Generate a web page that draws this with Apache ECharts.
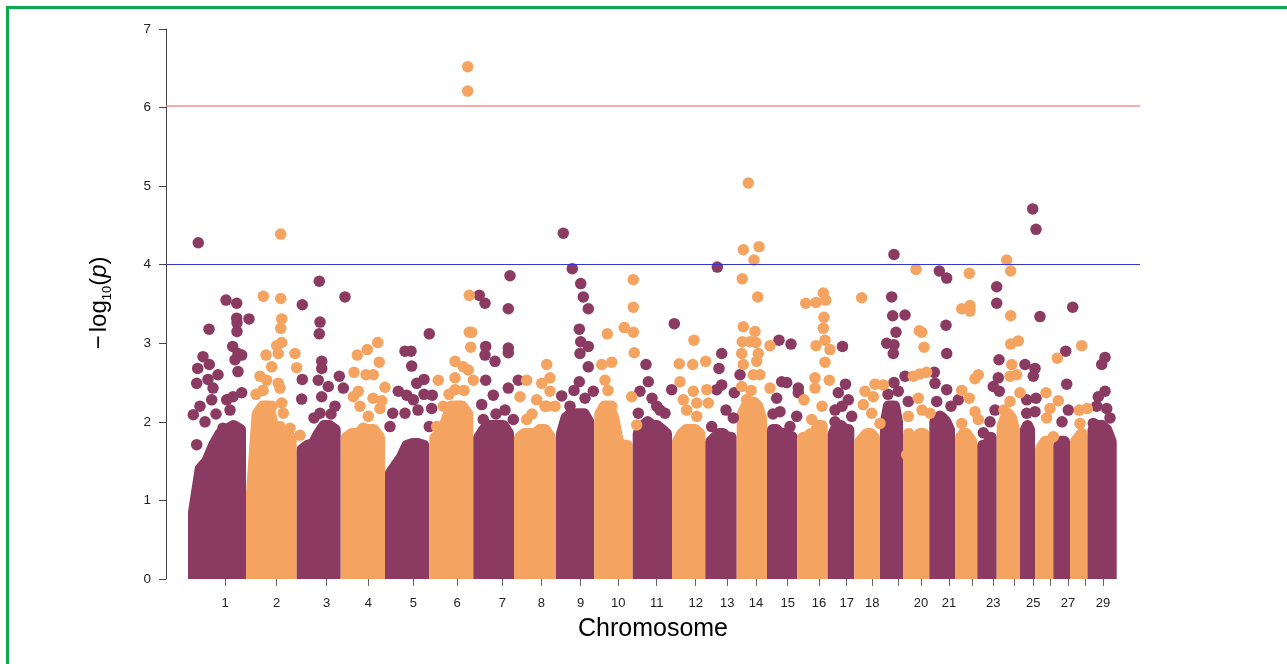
<!DOCTYPE html>
<html>
<head>
<meta charset="utf-8">
<script src="https://cdn.jsdelivr.net/npm/echarts@6/dist/echarts.min.js"></script>
<style>html,body{margin:0;padding:0;background:#fff}#c{width:1287px;height:664px}</style>
</head>
<body>
<div id="c"></div>
<script>
// ---- Data (cumulative genomic position in plot units, -log10(p)) ----
const chromosomes = ['1','2','3','4','5','6','7','8','9','10','11','12','13','14','15','16','17','18','19','20','21','22','23','24','25','26','27','28','29'];
// chromosome boundaries along the cumulative position axis (30 edges)
const chrBounds = [22, 80, 130.7, 174.7, 219, 263.3, 307.3, 348, 390, 428.3, 466.7, 506, 539.3, 570.7, 601, 631.3, 661.7, 688.3, 714, 737, 763.3, 789, 811.3, 830.7, 854, 869, 887.3, 904, 921.5, 950.7];
// tick positions (chromosome centres) and tick labels
const tickPos = [59, 110.7, 160.7, 202.3, 247.3, 291, 336.3, 375.3, 414.7, 452.3, 490.7, 529.7, 561.3, 590, 621.7, 653, 680.7, 706.3, 732, 755, 783, 806.3, 827.3, 848, 867.3, 884.7, 902, 919.7, 937];
const tickLabels = ['1','2','3','4','5','6','7','8','9','10','11','12','13','14','15','16','17','18','','20','21','','23','','25','','27','','29'];
// upper envelope (point centres) of the dense bulk of SNPs per chromosome, evenly spaced across the chromosome
const bulkTop = [
  [0.85,1.4,1.5,1.7,1.85,1.9,1.95,1.9],
  [1.1,2.1,2.2,2.2,1.9,1.85,1.8,1.8],
  [1.65,1.7,1.72,1.85,1.95,1.95,1.9],
  [1.8,1.85,1.85,1.9,1.9,1.9,1.8],
  [1.35,1.45,1.55,1.7,1.72,1.72,1.7],
  [1.8,1.85,2.0,2.2,2.2,2.2,2.1],
  [1.8,1.9,1.95,1.95,1.95,1.95,1.85],
  [1.8,1.85,1.85,1.85,1.9,1.9,1.8],
  [1.85,2.05,2.1,2.1,2.1,2.1,2.0],
  [2.1,2.2,2.2,2.05,1.75,1.7,1.7],
  [1.85,1.95,2.0,1.95,1.95,1.9,1.85],
  [1.75,1.85,1.9,1.9,1.9,1.85],
  [1.75,1.8,1.85,1.85,1.8,1.8],
  [2.1,2.2,2.25,2.25,2.2,2.05],
  [1.9,1.9,1.85,1.85,1.8,1.75],
  [1.8,1.8,1.85,1.85,1.95,1.95],
  [1.85,1.95,1.95,1.9,1.9],
  [1.75,1.8,1.85,1.85,1.8],
  [2.0,2.2,2.2,2.2,2.0],
  [1.85,1.75,1.8,1.85,1.85],
  [2.0,2.05,2.05,2.0,1.9],
  [1.8,1.85,1.85,1.8,1.75],
  [1.7,1.6,1.7,1.75,1.8],
  [1.95,2.05,2.1,2.05,1.9],
  [1.9,1.95,1.9],
  [1.65,1.7,1.75,1.75],
  [1.7,1.75,1.75],
  [1.75,1.8,1.85],
  [1.9,1.95,1.95,1.9,1.75]
];
// individual SNPs above the bulk, odd chromosomes
const oddChrSNPs = [
  // chr1
  [32.3,4.28],[60,3.55],[70.7,3.51],[83,3.31],[70.7,3.32],[71,3.26],[71,3.15],[43,3.18],[66.7,2.96],[72,2.87],[75.7,2.85],[69,2.79],[72,2.64],[37,2.83],[31.7,2.68],[43.3,2.73],[52,2.6],[30.7,2.49],[42,2.54],[47,2.43],[45.7,2.28],[34,2.2],[27.3,2.09],[60.7,2.28],[67,2.32],[75.7,2.37],[30.7,1.71],[57,1.92],[64,2.15],[50,2.1],[39,2.0],
  // chr3
  [153.3,3.79],[179,3.59],[136.3,3.49],[154,3.27],[153.3,3.12],[155.7,2.77],[155.7,2.68],[173.3,2.58],[136.3,2.54],[152.3,2.53],[162.3,2.45],[177.3,2.43],[135.7,2.29],[155.7,2.32],[169,2.2],[154,2.11],[148,2.05],[165,2.1],
  // chr5
  [263.3,3.12],[239,2.9],[245,2.9],[245.7,2.71],[258,2.54],[250.7,2.49],[232.3,2.39],[240.7,2.34],[247.3,2.28],[266.3,2.34],[226.7,2.11],[239,2.11],[224,1.94],[265.7,2.17],[263.3,1.94],[252,2.15],[258,2.35],
  // chr7
  [344,3.86],[313.3,3.61],[319,3.51],[342.3,3.44],[319.7,2.96],[342.3,2.94],[319,2.85],[329,2.77],[342.3,2.88],[352.3,2.53],[319.7,2.53],[342.3,2.43],[327.3,2.34],[315.7,2.22],[339,2.15],[317.3,2.03],[347.3,2.03],[330,2.1],
  // chr9
  [397.3,4.4],[406.3,3.95],[414.7,3.76],[417.3,3.59],[422.3,3.44],[413.3,3.18],[414.7,3.02],[422.3,2.96],[414,2.87],[422.3,2.7],[395.7,2.33],[413.3,2.51],[427.3,2.39],[404,2.2],[408,2.4],[419,2.3],
  // chr11
  [508.3,3.25],[480,2.73],[482.3,2.51],[474,2.39],[505.7,2.41],[490.7,2.2],[499,2.11],[472.3,2.11],[484,1.9],[486,2.3],[494,2.15],
  // chr13
  [551.3,3.97],[555.7,2.87],[553,2.68],[555.7,2.47],[550.7,2.41],[568.3,2.37],[574,2.6],[567.3,2.05],[545.7,1.94],[560,2.15],
  // chr15
  [613,3.04],[625,2.99],[615.7,2.51],[620.7,2.5],[632.3,2.43],[632.3,2.37],[610.7,2.3],[614,2.13],[630.7,2.07],[624,1.94],[625.7,1.81],[607,2.1],
  // chr17
  [676.5,2.96],[679.5,2.48],[672.3,2.37],[669,2.15],[682.3,2.28],[685.7,2.07],[669,2.0],[676,2.2],
  // chr19
  [728,4.13],[725.7,3.59],[726.7,3.35],[739,3.36],[730,3.14],[720.7,3.0],[728,2.98],[727.3,2.87],[739,2.58],[732.3,2.39],[742.3,2.26],[722,2.35],[728,2.5],
  // chr21
  [773.3,3.92],[780.7,3.83],[780,3.23],[780.7,2.87],[768.3,2.63],[769,2.49],[780.7,2.41],[770.7,2.26],[792.3,2.28],[774,2.07],[785,2.2],
  // chr23
  [830.7,3.72],[830.7,3.51],[833,2.79],[832.3,2.56],[827.3,2.45],[833.3,2.39],[829,2.15],[817.3,1.86],[820.7,1.69],[824,2.0],
  // chr25
  [866.7,4.71],[870,4.45],[874,3.34],[859,2.73],[869,2.68],[867.3,2.58],[860.7,2.28],[870,2.3],[869,2.13],[860.7,2.11],
  // chr27
  [906.7,3.46],[899.7,2.9],[900.7,2.48],[902.3,2.15],[895.7,1.73],[896,2.0],
  // chr29
  [939,2.82],[935.7,2.73],[939,2.39],[932.3,2.32],[940.7,2.17],[930.7,2.2],[927.3,1.98],[944,2.05]
];
// individual SNPs above the bulk, even chromosomes
const evenChrSNPs = [
  // chr2
  [114.7,4.39],[97.3,3.6],[114.7,3.57],[115.7,3.31],[114.7,3.19],[115.7,3.01],[110.7,2.97],[100,2.85],[112.3,2.87],[129,2.87],[105.7,2.7],[130.7,2.69],[94,2.58],[100.7,2.53],[112.3,2.49],[114,2.43],[115.7,2.24],[117.3,2.11],[114,1.94],[124,1.92],[134,1.83],[90,2.35],[97,2.4],[106,2.2],
  // chr4
  [211.7,3.01],[201.3,2.92],[191.3,2.85],[213.3,2.76],[188,2.63],[200,2.6],[207.3,2.6],[192.3,2.39],[219,2.44],[187.3,2.32],[215.7,2.27],[194,2.2],[214,2.17],[202.3,2.07],[197.3,1.92],[207,2.3],
  // chr6
  [301.7,6.52],[301.7,6.21],[303.3,3.61],[303.3,3.14],[305.7,3.14],[304.7,2.95],[289,2.77],[297.3,2.7],[302.3,2.66],[272.3,2.53],[289,2.56],[307.3,2.53],[289,2.41],[277.3,2.2],[295.7,2.11],[270.7,1.94],[283,2.35],[298,2.4],
  // chr8
  [360.7,2.53],[354,2.32],[380.7,2.73],[375.7,2.49],[370.7,2.28],[360.7,2.03],[380.7,2.2],[384,2.56],[384,2.39],[379,2.2],[389,2.2],[366,2.1],
  // chr10
  [467.3,3.81],[467.3,3.46],[458.3,3.2],[467.3,3.14],[441.3,3.12],[468.3,2.88],[435.7,2.73],[445.7,2.76],[439,2.53],[465.7,2.32],[445.7,2.2],[437.3,2.03],[444,1.86],[470.7,1.96],[442,2.4],
  // chr12
  [528,3.04],[513.3,2.74],[526.7,2.73],[539.7,2.77],[514,2.51],[527.3,2.39],[540.7,2.41],[517.3,2.28],[530.7,2.24],[520.7,2.15],[542.3,2.24],[530.7,2.07],
  // chr14
  [582.3,5.04],[577.3,4.19],[593,4.23],[588,4.06],[576.3,3.82],[591.7,3.59],[577.3,3.21],[589,3.15],[576.3,3.02],[584,3.02],[589.7,3.01],[604,2.97],[575.7,2.87],[592.3,2.87],[590.7,2.77],[577.3,2.73],[587.3,2.6],[594,2.6],[575.7,2.45],[604,2.43],[580.7,2.28],[585,2.4],
  // chr16
  [639.7,3.51],[650,3.52],[657.3,3.64],[659.7,3.55],[658,3.33],[657.3,3.19],[659,3.04],[664,2.92],[650,2.97],[659,2.76],[649,2.56],[663.3,2.53],[649,2.43],[638,2.28],[645.7,2.03],[656,2.2],
  // chr18
  [695.7,3.58],[699,2.39],[709,2.48],[717.3,2.47],[697.3,2.22],[707.3,2.32],[705.7,2.11],[714,1.98],
  // chr20
  [750,3.94],[753.3,3.16],[755.7,3.14],[758,2.95],[747.3,2.58],[754,2.61],[760.7,2.63],[752.3,2.3],[764,2.11],[742.3,2.07],[740.7,1.58],[756,2.15],
  // chr22
  [803.3,3.89],[795.7,3.44],[804,3.48],[804,3.41],[812.3,2.6],[809,2.55],[795.7,2.4],[803.3,2.3],[809,2.13],[795.7,1.98],[812.3,2.03],
  // chr24
  [840.7,4.06],[844.7,3.92],[844.7,3.35],[844.7,2.99],[852.3,3.03],[845.7,2.73],[844,2.58],[850.7,2.6],[854,2.37],[844,2.26],[838,2.15],
  // chr26
  [891.3,2.81],[880,2.37],[892.3,2.27],[884,2.17],[880.7,2.05],[887.3,1.81],
  // chr28
  [915.7,2.97],[913.3,2.15],[921.3,2.17],[914,1.98]
];
const suggestiveLine = 4;
const genomeWideLine = 6.02;

// ---- Styling ----
const PURPLE = '#8b3a62';
const ORANGE = '#f4a460';
const FONT = '"Liberation Sans", Arial, Helvetica, sans-serif';
const DOT = 11.5;

const labelMap = {};
tickPos.forEach((p, i) => { labelMap[p.toFixed(1)] = tickLabels[i]; });
const labelledPos = tickPos.filter((p, i) => tickLabels[i] !== '');

const chart = echarts.init(document.getElementById('c'), null, {renderer: 'canvas'});
chart.setOption({
  animation: false,
  backgroundColor: '#fff',
  grid: {left: 166, right: 147, top: 29, bottom: 85, containLabel: false},
  xAxis: {
    type: 'value', min: 0, max: 974,
    axisLine: {show: false},
    splitLine: {show: false},
    axisTick: {show: true, customValues: tickPos, length: 7, lineStyle: {color: '#666', width: 1}},
    axisLabel: {show: true, customValues: labelledPos, interval: 0, margin: 18, color: '#222', fontSize: 13, fontFamily: FONT,
      formatter: v => labelMap[Number(v).toFixed(1)] || ''},
    name: 'Chromosome', nameLocation: 'middle', nameGap: 38,
    nameTextStyle: {color: '#000', fontSize: 25, fontFamily: FONT}
  },
  yAxis: {
    type: 'value', min: 0, max: 7, interval: 1,
    axisLine: {show: true, lineStyle: {color: '#444', width: 1}},
    axisTick: {show: true, length: 7, lineStyle: {color: '#444', width: 1}},
    axisLabel: {margin: 15, color: '#222', fontSize: 13.5, fontFamily: FONT},
    splitLine: {show: false}
  },
  graphic: [
    {type: 'rect', silent: true, z: 100, shape: {x: 7.5, y: 7.5, width: 1400, height: 800},
      style: {fill: 'none', stroke: '#0ba84e', lineWidth: 3}},
    {type: 'text', silent: true, x: 99, y: 303, rotation: Math.PI / 2, z: 100,
      style: {
        text: '{a|−} {a|log}{s|10}{a|(}{p|p}{a|)}',
        align: 'center', verticalAlign: 'middle', fill: '#000',
        rich: {
          a: {fontSize: 24, fontFamily: FONT, lineHeight: 30, fill: '#000'},
          s: {fontSize: 13, fontFamily: FONT, lineHeight: 17, verticalAlign: 'bottom', fill: '#000'},
          p: {fontSize: 24, fontFamily: FONT, fontStyle: 'italic', lineHeight: 30, fill: '#000'}
        }
      }}
  ],
  series: [
    {
      type: 'custom', z: 2, clip: true,
      data: chromosomes.map((c, i) => [chrBounds[i], 0, i]),
      encode: {x: 0, y: 1},
      renderItem: function (params, api) {
        const i = api.value(2);
        const env = bulkTop[i];
        const r = DOT / 2;
        const x0 = api.coord([chrBounds[i], 0])[0] + r;
        const x1 = api.coord([chrBounds[i + 1], 0])[0] - r;
        const yBase = api.coord([0, 0])[1] + 3 * r;
        const pts = [[x0, yBase]];
        for (let k = 0; k < env.length; k++) {
          const x = x0 + (x1 - x0) * k / (env.length - 1);
          pts.push([x, api.coord([0, env[k]])[1]]);
        }
        pts.push([x1, yBase]);
        const col = i % 2 === 0 ? PURPLE : ORANGE;
        return {type: 'polygon', shape: {points: pts},
          style: {fill: col, stroke: col, lineWidth: DOT, lineJoin: 'round'}};
      },
      markLine: {
        silent: true, symbol: 'none', label: {show: false}, animation: false,
        data: [
          {yAxis: genomeWideLine, lineStyle: {color: '#f28c8c', width: 1.5, type: 'solid'}},
          {yAxis: suggestiveLine, lineStyle: {color: '#3535d2', width: 1, type: 'solid'}}
        ]
      }
    },
    {type: 'scatter', z: 3, data: oddChrSNPs, symbol: 'circle', symbolSize: DOT, itemStyle: {color: PURPLE, opacity: 1}, silent: true},
    {type: 'scatter', z: 3, data: evenChrSNPs, symbol: 'circle', symbolSize: DOT, itemStyle: {color: ORANGE, opacity: 1}, silent: true}
  ]
});
</script>
</body>
</html>
